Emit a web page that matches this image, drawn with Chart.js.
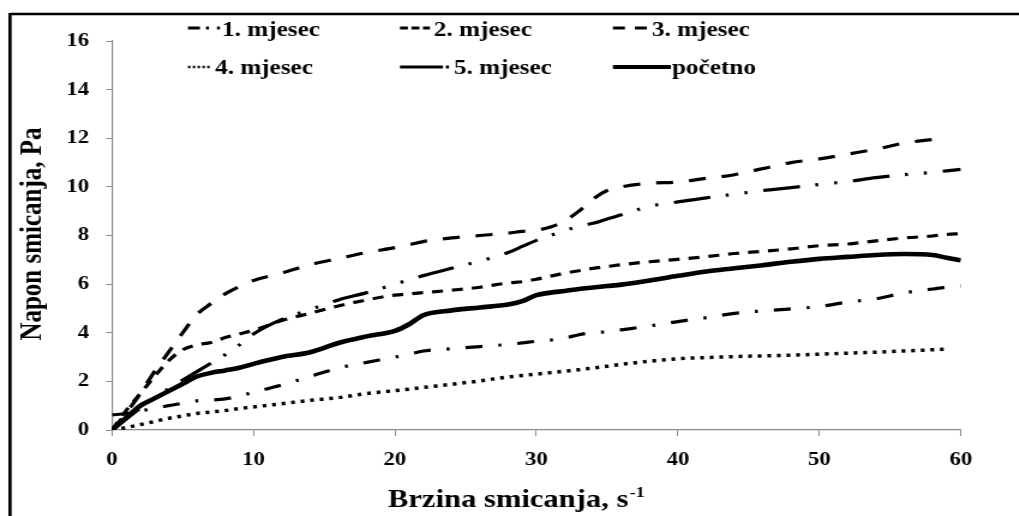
<!DOCTYPE html>
<html>
<head>
<meta charset="utf-8">
<title>Napon smicanja</title>
<script src="https://cdn.jsdelivr.net/npm/chart.js@4.4.0/dist/chart.umd.min.js"></script>
<style>
  html, body { margin: 0; padding: 0; background: #fff; overflow: hidden; }
  #wrap { width: 1019px; height: 516px; overflow: hidden; }
  /* the original picture is a little wider than it should be, so the canvas is drawn narrow and stretched */
  #chart { display: block; transform: scaleX(1.2); transform-origin: 0 0; }
</style>
</head>
<body>
<div id="wrap"><canvas id="chart" width="849" height="516"></canvas></div>
<script>
// -------------------------------
// Data
// -------------------------------
const seriesLabels = ["1. mjesec", "2. mjesec", "3. mjesec", "4. mjesec", "5. mjesec", "početno"];

// shear rate, s-1
const shearRate = [0, 1, 2, 3, 4, 5, 6, 7, 8, 9, 10, 12, 14, 16, 18, 20, 21, 22, 24, 26, 28,
  29, 30, 31, 32, 33, 34, 35, 36, 38, 40, 42, 44, 46, 48, 50, 52, 54, 56, 58, 59, 60];

// shear stress, Pa
const month1 = [0.62, 0.68, 0.78, 0.9, 1.0, 1.1, 1.2, 1.23, 1.28, 1.4, 1.55, 1.85, 2.2, 2.55, 2.78,
  3.0, 3.12, 3.25, 3.34, 3.43, 3.52, 3.58, 3.65, 3.7, 3.78, 3.92, 4.0, 4.04, 4.12, 4.28, 4.46,
  4.62, 4.8, 4.9, 4.98, 5.08, 5.26, 5.4, 5.64, 5.8, 5.88, 5.93];
const month2 = [0, 0.8, 1.5, 2.2, 2.85, 3.3, 3.5, 3.6, 3.8, 3.95, 4.1, 4.5, 4.8, 5.1, 5.35,
  5.55, 5.6, 5.65, 5.75, 5.87, 6.05, 6.1, 6.2, 6.33, 6.45, 6.55, 6.65, 6.72, 6.8, 6.92, 7.02,
  7.13, 7.26, 7.35, 7.45, 7.58, 7.65, 7.78, 7.9, 7.98, 8.04, 8.08];
const month3 = [0, 0.7, 1.5, 2.4, 3.2, 4.0, 4.75, 5.2, 5.6, 5.9, 6.15, 6.45, 6.8, 7.05, 7.3,
  7.5, 7.62, 7.75, 7.9, 8.0, 8.1, 8.17, 8.22, 8.35, 8.6, 9.0, 9.5, 9.85, 10.0, 10.15, 10.2,
  10.35, 10.5, 10.75, 11.0, 11.15, 11.35, 11.55, 11.8, 11.95, 12.0, null];
const month4 = [0, 0.1, 0.22, 0.35, 0.48, 0.58, 0.68, 0.74, 0.8, 0.88, 0.95, 1.08, 1.22, 1.33, 1.5,
  1.62, 1.68, 1.75, 1.88, 2.02, 2.18, 2.24, 2.3, 2.36, 2.42, 2.48, 2.55, 2.62, 2.7, 2.83, 2.93,
  2.98, 3.02, 3.05, 3.08, 3.12, 3.16, 3.2, 3.25, 3.3, 3.33, null];
const month5 = [0, 0.45, 0.9, 1.3, 1.7, 2.05, 2.4, 2.75, 3.1, 3.5, 3.95, 4.55, 4.95, 5.35, 5.65,
  6.0, 6.18, 6.35, 6.65, 6.95, 7.3, 7.55, 7.8, 8.0, 8.2, 8.38, 8.5, 8.68, 8.85, 9.2, 9.38,
  9.55, 9.7, 9.85, 9.97, 10.1, 10.22, 10.38, 10.5, 10.6, 10.66, 10.72];
const initial = [0, 0.5, 1.0, 1.3, 1.6, 1.9, 2.2, 2.35, 2.45, 2.56, 2.72, 3.0, 3.2, 3.58, 3.85,
  4.08, 4.35, 4.72, 4.92, 5.04, 5.16, 5.3, 5.55, 5.65, 5.72, 5.8, 5.86, 5.92, 5.98, 6.15, 6.34,
  6.52, 6.65, 6.78, 6.92, 7.04, 7.12, 7.2, 7.24, 7.2, 7.08, 6.98];

const xTickValues = [0, 10, 20, 30, 40, 50, 60];
const yTickValues = [0, 2, 4, 6, 8, 10, 12, 14, 16];

const xTitle = "Brzina smicanja, s";
const xTitleSup = "-1";
const yTitle = "Napon smicanja, Pa";

// -------------------------------
// Styles
// -------------------------------
const STRETCH = 1019 / 849;
const rx = v => v / STRETCH; // picture x -> canvas x

const FONT = '"Liberation Serif", "Times New Roman", serif';
const INK = "#000";
const AXIS_GREY = "#8a8a8a";

// line style per series: dash (picture px), line width, legend sample
const seriesStyles = [
  { dash: [17, 16, 3, 16], width: 3.2, legend: { x0: 188, x1: 220, tx: 222, row: 0, dash: [12, 6, 3, 8, 3, 40], width: 2.8 } },
  { dash: [11, 9], width: 3.2, legend: { x0: 400, x1: 430, tx: 434, row: 0, dash: [8, 3.5], width: 2.8 } },
  { dash: [17, 16], width: 3.2, legend: { x0: 613, x1: 647, tx: 652, row: 0, dash: [12, 10], width: 2.8 } },
  { dash: [3.8, 5.8], width: 3.5, legend: { x0: 188, x1: 212, tx: 215, row: 1, dash: [2.4, 2.4], width: 2.6 } },
  { dash: [37, 15.5, 3, 16, 3, 16], width: 3.2, legend: { x0: 400, x1: 450, tx: 454, row: 1, dash: [43, 3, 3, 40], width: 2.8 } },
  { dash: [], width: 4.6, legend: { x0: 613, x1: 671, tx: 672, row: 1, dash: [], width: 4.2 } }
];
const legendRows = [{ lineY: 28, textY: 36 }, { lineY: 67, textY: 74 }];

// -------------------------------
// Chart
// -------------------------------
function toPoints(values) {
  return shearRate.map((x, i) => ({ x: x, y: values[i] }));
}

const seriesValues = [month1, month2, month3, month4, month5, initial];

const datasets = seriesValues.map((values, i) => ({
  label: seriesLabels[i],
  data: toPoints(values),
  borderColor: INK,
  borderWidth: seriesStyles[i].width,
  borderDash: seriesStyles[i].dash.map(rx),
  borderCapStyle: "butt",
  borderJoinStyle: "round",
  pointRadius: 0,
  cubicInterpolationMode: "monotone",
  fill: false
}));

// frame, legend and axis titles drawn by hand
const decorPlugin = {
  id: "decor",
  afterDraw(chart) {
    const ctx = chart.ctx;
    ctx.save();

    // frame round the picture (left and top edges only are visible)
    ctx.strokeStyle = INK;
    ctx.lineWidth = 2.6;
    ctx.beginPath();
    ctx.moveTo(rx(10), 14);
    ctx.lineTo(chart.width + 5, 14);
    ctx.stroke();
    ctx.lineWidth = 2.7;
    ctx.beginPath();
    ctx.moveTo(rx(10), 13);
    ctx.lineTo(rx(10), chart.height + 5);
    ctx.stroke();

    // legend
    ctx.fillStyle = INK;
    ctx.font = "bold 21px " + FONT;
    ctx.textAlign = "left";
    ctx.textBaseline = "alphabetic";
    seriesStyles.forEach((st, i) => {
      const lg = st.legend;
      const row = legendRows[lg.row];
      ctx.lineWidth = lg.width;
      ctx.setLineDash(lg.dash.map(rx));
      ctx.beginPath();
      ctx.moveTo(rx(lg.x0), row.lineY);
      ctx.lineTo(rx(lg.x1), row.lineY);
      ctx.stroke();
      ctx.setLineDash([]);
      ctx.fillText(seriesLabels[i], rx(lg.tx), row.textY);
    });

    // x title with superscript
    ctx.font = "bold 25.5px " + FONT;
    const tx = rx(388);
    ctx.fillText(xTitle, tx, 507);
    const w = ctx.measureText(xTitle).width;
    ctx.font = "bold 15px " + FONT;
    ctx.fillText(xTitleSup, tx + w + 1, 497);

    // y title
    ctx.translate(rx(33), 234);
    ctx.rotate(-Math.PI / 2);
    ctx.font = "bold 25px " + FONT;
    ctx.textAlign = "center";
    ctx.textBaseline = "middle";
    ctx.fillText(yTitle, 0, 0);

    ctx.restore();
  }
};

const tickFont = { family: FONT, weight: "bold", size: 19 };

new Chart(document.getElementById("chart"), {
  type: "line",
  data: { datasets: datasets },
  options: {
    responsive: false,
    animation: false,
    devicePixelRatio: 1,
    layout: { padding: { top: 41, right: 849 - rx(961), bottom: 0, left: 0 } },
    plugins: {
      legend: { display: false },
      tooltip: { enabled: false },
      title: { display: false }
    },
    scales: {
      x: {
        type: "linear",
        min: 0,
        max: 60,
        afterBuildTicks: scale => { scale.ticks = xTickValues.map(v => ({ value: v })); },
        afterFit: scale => { scale.height = 516 - 430; },
        ticks: { font: tickFont, color: INK, padding: 13, maxRotation: 0 },
        grid: { drawOnChartArea: false, drawTicks: true, tickLength: 6, color: AXIS_GREY },
        border: { display: true, color: AXIS_GREY, width: 1.2 }
      },
      y: {
        type: "linear",
        min: 0,
        max: 16,
        afterBuildTicks: scale => { scale.ticks = yTickValues.map(v => ({ value: v })); },
        afterFit: scale => { scale.width = rx(112); },
        ticks: { font: tickFont, color: INK, padding: 14 },
        grid: { drawOnChartArea: false, drawTicks: true, tickLength: 5, color: AXIS_GREY },
        border: { display: true, color: AXIS_GREY, width: 1.2 }
      }
    }
  },
  plugins: [decorPlugin]
});
</script>
</body>
</html>
